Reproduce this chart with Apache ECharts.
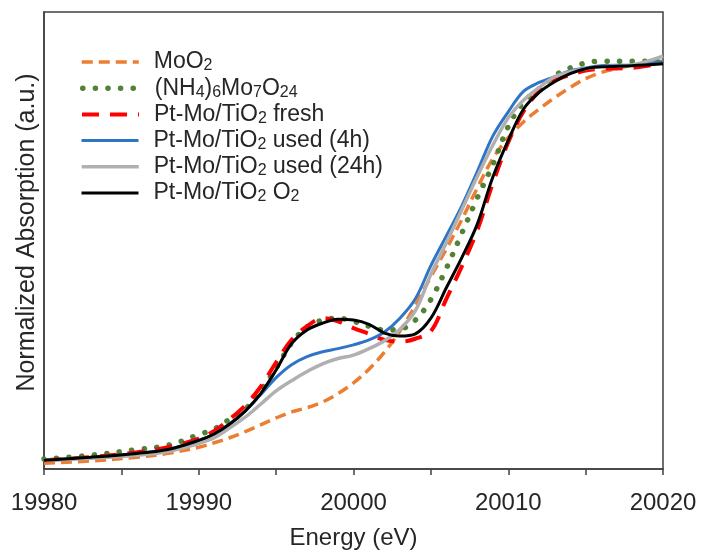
<!DOCTYPE html>
<html lang="en">
<head>
    <meta charset="UTF-8">
    <title>Mo K-edge XANES</title>
    <script src="https://cdn.jsdelivr.net/npm/echarts@6/dist/echarts.min.js"></script>
    <style>
        html, body { margin: 0; padding: 0; background: #fff; }
        #chart { width: 702px; height: 555px; }
    </style>
</head>
<body>
    <div id="chart"></div>
    <script>
        // energy grid (eV), shared by all spectra
        var energy = [19980, 19983, 19986, 19988, 19990, 19991, 19992, 19993, 19994, 19995,
            19996, 19997, 19998, 19999, 20000, 20001, 20002, 20003, 20004, 20005,
            20006, 20007, 20008, 20009, 20010, 20011, 20012, 20013, 20014, 20015,
            20016, 20018, 20020];

        // normalized absorption
        var moo2 = [0.015, 0.021, 0.031, 0.041, 0.057, 0.069, 0.082, 0.098, 0.116, 0.134,
            0.150, 0.161, 0.176, 0.198, 0.226, 0.262, 0.307, 0.362, 0.430, 0.505,
            0.578, 0.655, 0.738, 0.815, 0.870, 0.912, 0.945, 0.975, 1.002, 1.025,
            1.041, 1.060, 1.071];
        var ahm = [0.026, 0.036, 0.051, 0.062, 0.090, 0.105, 0.131, 0.157, 0.206, 0.265,
            0.331, 0.373, 0.391, 0.396, 0.388, 0.375, 0.365, 0.367, 0.391, 0.445,
            0.527, 0.619, 0.712, 0.799, 0.899, 0.964, 0.998, 1.033, 1.053, 1.066,
            1.071, 1.071, 1.069];
        var fresh = [0.023, 0.031, 0.044, 0.057, 0.080, 0.100, 0.131, 0.167, 0.216, 0.280,
            0.339, 0.375, 0.396, 0.388, 0.370, 0.355, 0.339, 0.334, 0.342, 0.362,
            0.447, 0.532, 0.627, 0.750, 0.858, 0.940, 0.992, 1.020, 1.035, 1.046,
            1.051, 1.053, 1.066];
        var used4h = [0.023, 0.031, 0.041, 0.051, 0.075, 0.092, 0.118, 0.152, 0.195, 0.240,
            0.274, 0.295, 0.308, 0.316, 0.326, 0.339, 0.360, 0.396, 0.447, 0.534,
            0.612, 0.691, 0.781, 0.874, 0.938, 0.992, 1.015, 1.030, 1.046, 1.053,
            1.059, 1.061, 1.069];
        var used24h = [0.023, 0.028, 0.036, 0.046, 0.067, 0.082, 0.108, 0.136, 0.170, 0.205,
            0.232, 0.256, 0.276, 0.290, 0.299, 0.316, 0.337, 0.367, 0.416, 0.511,
            0.594, 0.681, 0.768, 0.850, 0.922, 0.969, 1.002, 1.030, 1.043, 1.051,
            1.056, 1.061, 1.084];
        var oxid = [0.023, 0.031, 0.041, 0.051, 0.075, 0.092, 0.118, 0.152, 0.198, 0.260,
            0.329, 0.365, 0.383, 0.393, 0.391, 0.380, 0.357, 0.349, 0.355, 0.396,
            0.476, 0.555, 0.643, 0.766, 0.863, 0.946, 0.989, 1.017, 1.038, 1.051,
            1.056, 1.059, 1.064];

        var names = ['MoO2', '(NH4)6Mo7O24', 'Pt-Mo/TiO2 fresh', 'Pt-Mo/TiO2 used (4h)',
            'Pt-Mo/TiO2 used (24h)', 'Pt-Mo/TiO2 O2'];
        var values = [moo2, ahm, fresh, used4h, used24h, oxid];
        var xTicks = [19980, 19990, 20000, 20010, 20020];

        var styles = [
            { color: '#ED7D31', width: 3.5, type: [11, 6], cap: 'butt' },
            { color: '#548235', width: 5.5, type: [0.1, 12.5], cap: 'round' },
            { color: '#FF0000', width: 4, type: [17, 11], cap: 'butt' },
            { color: '#2E75C6', width: 3, type: 'solid', cap: 'butt' },
            { color: '#B0B0B0', width: 3.5, type: 'solid', cap: 'butt' },
            { color: '#000000', width: 3, type: 'solid', cap: 'butt' }
        ];

        var textColor = '#262626';
        var font = 'Liberation Sans, Arial, sans-serif';

        // chemical formula digits as subscripts
        function subFormat(name) {
            return name.replace(/([A-Za-z\)])(\d+)/g, '$1{s|$2}');
        }

        var seriesArr = [], legendArr = [];
        names.forEach(function (name, i) {
            var ls = {
                color: styles[i].color,
                width: styles[i].width,
                type: styles[i].type,
                cap: styles[i].cap
            };
            seriesArr.push({
                name: name,
                type: 'line',
                symbol: 'none',
                smooth: 0.35,
                data: energy.map(function (e, k) { return [e, values[i][k]]; }),
                lineStyle: ls,
                itemStyle: { color: styles[i].color }
            });
            legendArr.push({
                data: [name],
                orient: 'vertical',
                left: 80,
                top: 50 + i * 26.2,
                padding: 0,
                itemWidth: 57,
                itemHeight: 14,
                selectedMode: false,
                itemStyle: { opacity: 0 },
                lineStyle: {
                    color: ls.color, width: ls.width, type: ls.type, cap: ls.cap, opacity: 1
                },
                formatter: subFormat,
                textStyle: {
                    color: textColor,
                    fontFamily: font,
                    fontSize: 23,
                    lineHeight: 24,
                    padding: [0, 0, 0, 10],
                    rich: {
                        s: { fontSize: 16, lineHeight: 8, verticalAlign: 'bottom', color: textColor, fontFamily: font }
                    }
                }
            });
        });

        var chart = echarts.init(document.getElementById('chart'));
        chart.setOption({
            animation: false,
            backgroundColor: '#fff',
            grid: {
                left: 44, right: 39, top: 12, bottom: 76,
                show: true, borderColor: '#404040', borderWidth: 1.5
            },
            legend: legendArr,
            xAxis: {
                type: 'value',
                min: xTicks[0],
                max: xTicks[xTicks.length - 1],
                interval: 10,
                name: 'Energy (eV)',
                nameLocation: 'middle',
                nameGap: 57,
                nameTextStyle: { color: textColor, fontFamily: font, fontSize: 24 },
                axisLine: { show: true, lineStyle: { color: '#404040', width: 1.5 } },
                axisTick: { show: true, inside: false, length: 6, lineStyle: { color: '#404040', width: 1.5 } },
                minorTick: { show: true, splitNumber: 2, length: 6, lineStyle: { color: '#404040', width: 1.5 } },
                splitLine: { show: false },
                axisLabel: {
                    color: textColor, fontFamily: font, fontSize: 24, margin: 22,
                    formatter: function (v) { return String(v); }
                }
            },
            yAxis: {
                type: 'value',
                min: 0,
                max: 1.2,
                name: 'Normalized Absorption (a.u.)',
                nameLocation: 'middle',
                nameGap: 4,
                nameTextStyle: { color: textColor, fontFamily: font, fontSize: 25, padding: [0, 0, 0, 16] },
                axisLine: { show: true, lineStyle: { color: '#404040', width: 1.5 } },
                axisTick: { show: false },
                axisLabel: { show: false },
                splitLine: { show: false }
            },
            series: seriesArr
        });
    </script>
</body>
</html>
